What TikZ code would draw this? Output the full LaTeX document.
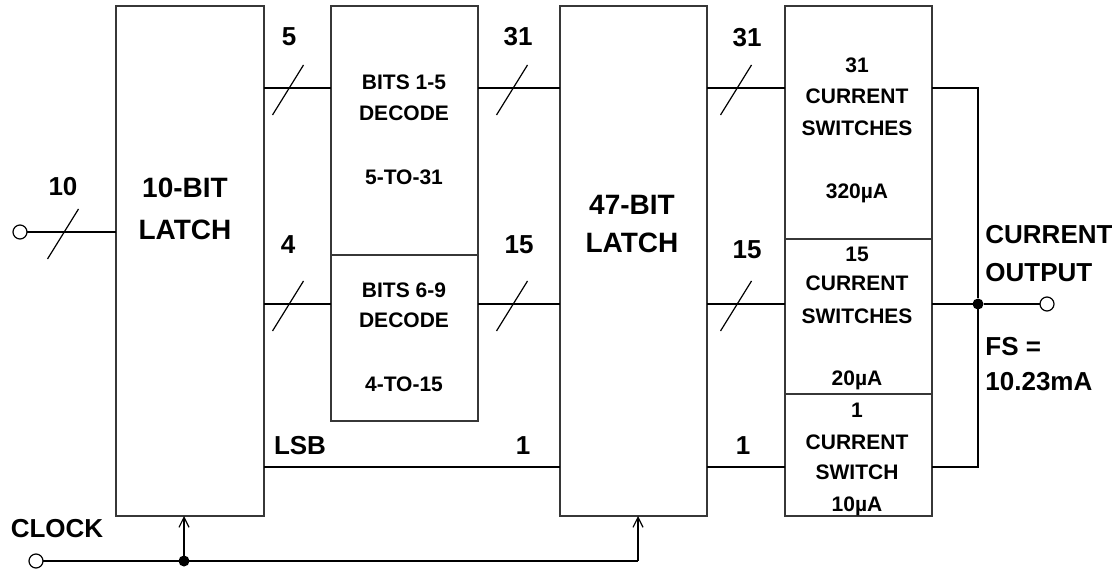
\documentclass[tikz,border=0pt]{standalone}
\usepackage{fontspec}
\setmainfont{Liberation Sans}
\usetikzlibrary{arrows.meta,positioning}
\definecolor{edge}{RGB}{55,55,55}
\definecolor{ink}{RGB}{0,0,0}
\tikzset{
  >={Straight Barb[length=5pt,width=5pt]},
  block/.style={draw=edge,line width=0.8pt,inner sep=0pt,outer sep=0pt},
  wire/.style={draw=ink,line width=0.6pt},
  term/.style={circle,draw=ink,line width=0.6pt,fill=white,minimum size=7pt,
    inner sep=0pt,outer sep=0pt},
  dot/.style={circle,fill=ink,minimum size=5.5pt,inner sep=0pt,outer sep=0pt},
  tag/.style={font=\bfseries\fontsize{13}{15}\selectfont,inner sep=0pt},
  head/.style={font=\bfseries\fontsize{14}{16}\selectfont,inner sep=0pt},
  txt/.style={font=\bfseries\fontsize{10.5}{12}\selectfont,inner sep=0pt},
  % bus width mark
  pics/slash/.style={code={
    \draw[wire] (-15.5,25) -- (15.5,-25);
  }},
}
\begin{document}
\begin{tikzpicture}[x=0.5pt,y=-0.5pt]
  \useasboundingbox (0,0) rectangle (1112,571);
  % blocks
  \node[block,minimum width=74pt,minimum height=255pt] (latch1) at (190,261) {};
  \node[block,minimum width=73.5pt,minimum height=124.5pt] (dec1) at (404.5,130.5) {};
  \node[block,minimum width=73.5pt,minimum height=83pt] (dec2) at (404.5,338) {};
  \node[block,minimum width=73.5pt,minimum height=255pt] (latch2) at (633.5,261) {};
  \node[block,minimum width=73.5pt,minimum height=116.5pt] (sw1) at (858.5,122.5) {};
  \node[block,minimum width=73.5pt,minimum height=77.5pt] (sw2) at (858.5,316.5) {};
  \node[block,minimum width=73.5pt,minimum height=61pt] (sw3) at (858.5,455) {};

  % block texts
  \node[head] (l1a) at (185,188) {10-BIT};
  \node[head] (l1b) at (185,230) {LATCH};
  \node[head] (l2a) at (632,205) {47-BIT};
  \node[head] (l2b) at (632,243) {LATCH};
  \node[txt] (d1a) at (404,82) {BITS 1-5};
  \node[txt] (d1b) at (404,113) {DECODE};
  \node[txt] (d1c) at (404,177) {5-TO-31};
  \node[txt] (d2a) at (404,290) {BITS 6-9};
  \node[txt] (d2b) at (404,320) {DECODE};
  \node[txt] (d2c) at (404,384) {4-TO-15};
  \node[txt] (s1a) at (857,65) {31};
  \node[txt] (s1b) at (857,96) {CURRENT};
  \node[txt] (s1c) at (857,128) {SWITCHES};
  \node[txt] (s1d) at (857,193) {320µA};
  \node[txt] (s2a) at (857,254) {15};
  \node[txt] (s2b) at (857,283) {CURRENT};
  \node[txt] (s2c) at (857,316) {SWITCHES};
  \node[txt] (s2d) at (857,380) {20µA};
  \node[txt] (s3a) at (857,410) {1};
  \node[txt] (s3b) at (857,442) {CURRENT};
  \node[txt] (s3c) at (857,472) {SWITCH};
  \node[txt] (s3d) at (857,506) {10µA};

  % terminals and junctions
  \node[term] (din) at (20,232) {};
  \node[term] (clk) at (36,561) {};
  \node[term] (iout) at (1047,304) {};
  \node[dot] (sum) at (978,304) {};
  \node[dot] (ckdot) at (184,561) {};
  \coordinate (busA) at (0,88);
  \coordinate (busB) at (0,304);
  \coordinate (busL) at (0,467);
  \coordinate (ck2) at (638,561);

  % buses
  \draw[wire] (din.east) -- (latch1.west |- din);
  \draw[wire] (latch1.east |- busA) -- (dec1.west |- busA);
  \draw[wire] (dec1.east |- busA) -- (latch2.west |- busA);
  \draw[wire] (latch2.east |- busA) -- (sw1.west |- busA);
  \draw[wire] (latch1.east |- busB) -- (dec2.west |- busB);
  \draw[wire] (dec2.east |- busB) -- (latch2.west |- busB);
  \draw[wire] (latch2.east |- busB) -- (sw2.west |- busB);
  \draw[wire] (latch1.east |- busL) -- (latch2.west |- busL);
  \draw[wire] (latch2.east |- busL) -- (sw3.west |- busL);
  \pic at (63,234) {slash};
  \pic at (288,90) {slash};
  \pic at (512,90) {slash};
  \pic at (736,90) {slash};
  \pic at (288,306) {slash};
  \pic at (512,306) {slash};
  \pic at (736,306) {slash};

  % output summing
  \draw[wire] (sw1.east |- busA) -| (sum);
  \draw[wire] (sw3.east |- busL) -| (sum);
  \draw[wire] (sw2.east |- busB) -- (sum) -- (iout.west);

  % clock
  \draw[wire] (clk.east) -- (ck2);
  \draw[wire,->] (ckdot) -- (ckdot |- latch1.south);
  \draw[wire,->] (ck2) -- (ck2 |- latch2.south);

  % labels
  \node[tag] (n10) at (63,187) {10};
  \node[tag] (n5) at (289,37) {5};
  \node[tag] (n31a) at (518,37) {31};
  \node[tag] (n31b) at (747,38) {31};
  \node[tag] (n4) at (288,245) {4};
  \node[tag] (n15a) at (519,245) {15};
  \node[tag] (n15b) at (747,250) {15};
  \node[tag] (lsb) at (300,446) {LSB};
  \node[tag] (n1a) at (523,446) {1};
  \node[tag] (n1b) at (743,446) {1};
  \node[tag] (clklbl) at (57,529) {CLOCK};
  \node[tag,anchor=west] (outa) at (985,235) {CURRENT};
  \node[tag,anchor=west] (outb) at (985,273) {OUTPUT};
  \node[tag,anchor=west] (fsa) at (985,347) {FS =};
  \node[tag,anchor=west] (fsb) at (985,382) {10.23mA};
\end{tikzpicture}
\end{document}
